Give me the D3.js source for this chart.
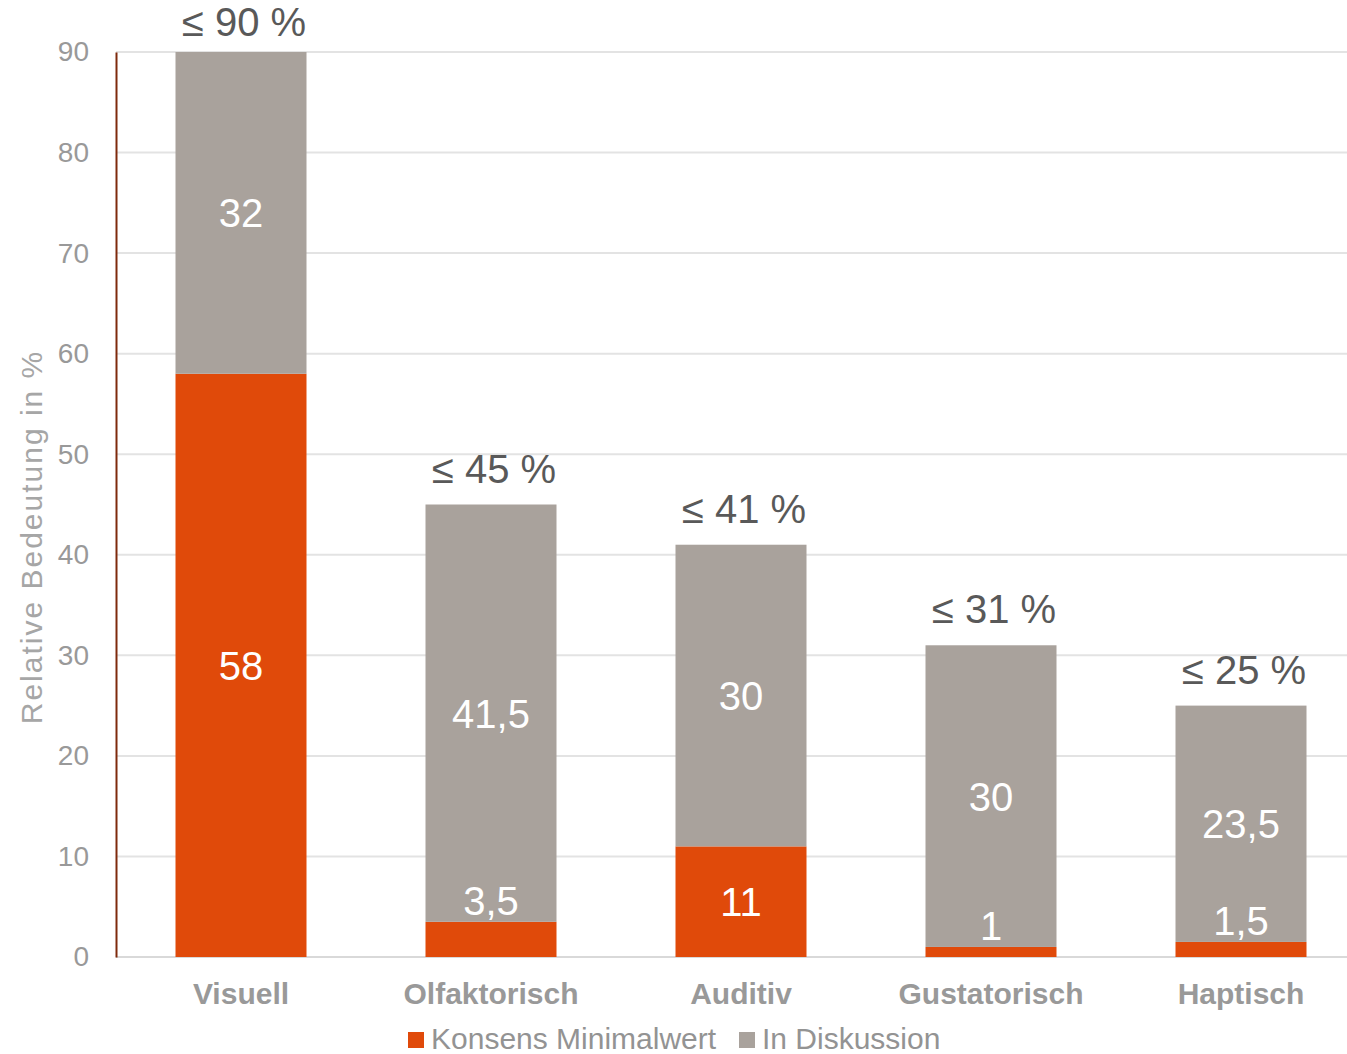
<!DOCTYPE html>
<html>
<head>
<meta charset="utf-8">
<script src="https://cdn.jsdelivr.net/npm/d3@7"></script>
<style>
  html, body { margin: 0; padding: 0; background: #fff; }
  svg text { font-family: "Liberation Sans", Arial, sans-serif; }
</style>
</head>
<body>
<div id="chart"></div>
<script>
var width = 1347;
var height = 1054;

// data
var categories = ["Visuell", "Olfaktorisch", "Auditiv", "Gustatorisch", "Haptisch"];
var konsens = [58, 3.5, 11, 1, 1.5];
var diskussion = [32, 41.5, 30, 30, 23.5];
var yTicks = [0, 10, 20, 30, 40, 50, 60, 70, 80, 90];
var seriesNames = ["Konsens Minimalwert", "In Diskussion"];
var seriesColors = ["#e04a0a", "#a9a29c"];

var fmt = function(v) { return String(v).replace(".", ","); };

var x = d3.scaleBand()
  .domain(categories)
  .range([116, 1366])
  .paddingInner(0.476)
  .paddingOuter(0.238);

var y = d3.scaleLinear()
  .domain([0, 90])
  .range([957, 52]);

var svg = d3.select("#chart")
  .append("svg")
  .attr("width", width)
  .attr("height", height);

// gridlines
svg.append("g")
  .selectAll("line")
  .data(yTicks)
  .enter().append("line")
  .attr("x1", 116)
  .attr("x2", width)
  .attr("y1", d => y(d))
  .attr("y2", d => y(d))
  .attr("stroke", d => d === 0 ? "#d9d9d9" : "#e3e3e3")
  .attr("stroke-width", 2);

// y axis
var yAxis = svg.append("g")
  .attr("transform", "translate(116,0)")
  .call(d3.axisLeft(y).tickValues(yTicks).tickSize(0).tickPadding(27));
yAxis.select(".domain")
  .attr("stroke", "#7f2a0c")
  .attr("stroke-width", 2);
yAxis.selectAll("text")
  .attr("fill", "#999999")
  .style("font-size", "28px")
  .style("font-family", "'Liberation Sans', Arial, sans-serif");

// y title
svg.append("text")
  .attr("transform", "translate(42,537) rotate(-90)")
  .attr("text-anchor", "middle")
  .attr("fill", "#a6a6a6")
  .style("font-size", "30px")
  .style("letter-spacing", "2px")
  .text("Relative Bedeutung in %");

// stacked data
var rows = categories.map((c, i) => ({ cat: c, konsens: konsens[i], diskussion: diskussion[i] }));
var stack = d3.stack().keys(["konsens", "diskussion"])(rows);

var layers = svg.append("g")
  .selectAll("g")
  .data(stack)
  .enter().append("g")
  .attr("fill", (d, i) => seriesColors[i]);

layers.selectAll("rect")
  .data(d => d)
  .enter().append("rect")
  .attr("x", d => x(d.data.cat))
  .attr("width", x.bandwidth())
  .attr("y", d => y(d[1]))
  .attr("height", d => y(d[0]) - y(d[1]));

// value labels inside segments (drawn after all bars)
var labelData = [];
stack.forEach(layer => layer.forEach(p => labelData.push({ p: p, key: layer.key })));

svg.append("g")
  .selectAll("text")
  .data(labelData)
  .enter().append("text")
  .attr("x", d => x(d.p.data.cat) + x.bandwidth() / 2)
  .attr("y", d => {
    var h = y(d.p[0]) - y(d.p[1]);
    if (h < 40) return y(d.p[1]) - 21;
    return (y(d.p[0]) + y(d.p[1])) / 2;
  })
  .attr("dy", "0.36em")
  .attr("text-anchor", "middle")
  .attr("fill", "#ffffff")
  .style("font-size", "40px")
  .text(d => fmt(d.p.data[d.key]));

// totals above bars
svg.append("g")
  .selectAll("text")
  .data(rows)
  .enter().append("text")
  .attr("x", d => x(d.cat) + x.bandwidth() / 2 + 3)
  .attr("y", d => Math.max(y(d.konsens + d.diskussion) - 22, 36))
  .attr("text-anchor", "middle")
  .attr("fill", "#595959")
  .style("font-size", "40px")
  .text(d => "\u2264 " + fmt(d.konsens + d.diskussion) + " %");

// category labels
svg.append("g")
  .selectAll("text")
  .data(categories)
  .enter().append("text")
  .attr("x", d => x(d) + x.bandwidth() / 2)
  .attr("y", 1004)
  .attr("text-anchor", "middle")
  .attr("fill", "#999999")
  .style("font-size", "30px")
  .style("font-weight", "bold")
  .text(d => d);

// legend
var legendX = [408, 739];
var legend = svg.append("g")
  .selectAll("g")
  .data(seriesNames)
  .enter().append("g")
  .attr("transform", (d, i) => "translate(" + legendX[i] + ",1038)");
legend.append("rect")
  .attr("x", 0)
  .attr("y", -6)
  .attr("width", 16)
  .attr("height", 16)
  .attr("fill", (d, i) => seriesColors[i]);
legend.append("text")
  .attr("x", 23)
  .attr("dy", "0.36em")
  .attr("fill", "#939393")
  .style("font-size", "30px")
  .text(d => d);
</script>
</body>
</html>
